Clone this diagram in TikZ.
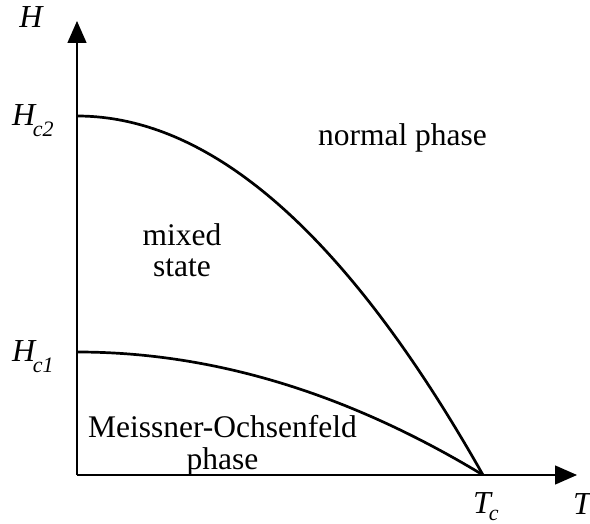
\documentclass[tikz,border=0pt]{standalone}
\usepackage{fontspec}
\setmainfont{Liberation Serif}
\usetikzlibrary{arrows.meta}
\begin{document}
\begin{tikzpicture}[x=1pt,y=1pt,
  axis/.style={line width=1.4pt,-{Triangle[length=22pt,width=19pt]}},
  curve/.style={line width=2.7pt},
  region/.style={inner sep=0pt,align=center,font=\fontsize{31.5}{32}\selectfont},
  ilabel/.style={inner sep=0pt,font=\fontsize{32}{32}\selectfont\itshape}]
\useasboundingbox (0,0) rectangle (590,-524);
\coordinate (O) at (77,-475);
\coordinate (Ytip) at (77,-21);
\coordinate (Xtip) at (577,-475);
\coordinate (Tc) at (483,-475);
\coordinate (Hc2) at (77,-116);
\coordinate (Hc1) at (77,-352);
% axes
\draw[axis] (O) -- (Ytip);
\draw[axis] (O) -- (Xtip);
% phase boundaries
\draw[curve] plot[domain=0:1,samples=80] ({77+406*\x},{-475+359*(1-\x*\x)});
\draw[curve] plot[domain=0:1,samples=80] ({77+406*\x},{-475+123*(1-\x*\x)});
% axis labels
\node[ilabel,anchor=base] (Hlab) at (31,-28) {H};
\node[ilabel,anchor=base west] (Tlab) at (573,-514) {T};
\node[ilabel,anchor=base west] (Hc2lab) at (12,-126) {H\kern-2.5pt\raisebox{-11pt}{\fontsize{22}{22}\selectfont c2}};
\node[ilabel,anchor=base west] (Hc1lab) at (12,-362) {H\kern-2.5pt\raisebox{-11pt}{\fontsize{22}{22}\selectfont c1}};
\node[ilabel,anchor=base west] (Tclab) at (473,-513) {T\kern-2pt\raisebox{-7pt}{\fontsize{22}{22}\selectfont c}};
% region labels
\node[region,anchor=base] (normal) at (402.5,-146) {normal phase};
\node[region,anchor=base] (mixed) at (182,-277) {mixed\\state};
\node[region,anchor=base] (meissner) at (222.5,-469) {Meissner-Ochsenfeld\\phase};
\end{tikzpicture}
\end{document}
